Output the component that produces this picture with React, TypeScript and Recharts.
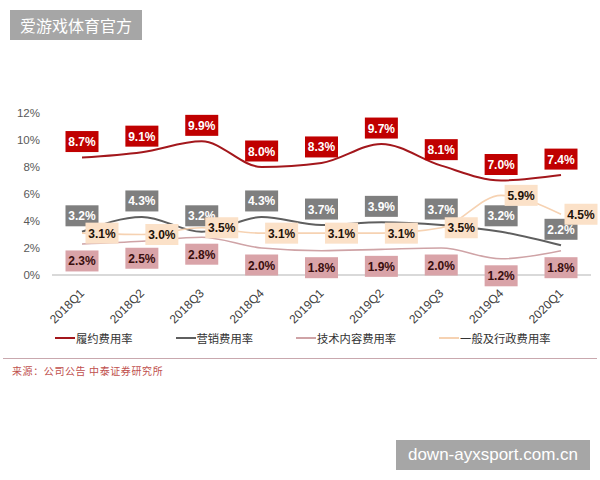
import React from 'react';
import { LineChart, Line, XAxis, YAxis, LabelList } from 'recharts';

// quarterly expense ratios, in percent
const quarters = ['2018Q1', '2018Q2', '2018Q3', '2018Q4', '2019Q1', '2019Q2', '2019Q3', '2019Q4', '2020Q1'];
const fulfillment = [8.7, 9.1, 9.9, 8.0, 8.3, 9.7, 8.1, 7.0, 7.4];
const marketing = [3.2, 4.3, 3.2, 4.3, 3.7, 3.9, 3.7, 3.2, 2.2];
const techContent = [2.3, 2.5, 2.8, 2.0, 1.8, 1.9, 2.0, 1.2, 1.8];
const generalAdmin = [3.1, 3.0, 3.5, 3.1, 3.1, 3.1, 3.5, 5.9, 4.5];
const yTicks = [0, 2, 4, 6, 8, 10, 12];

const data = quarters.map((q, i) => ({
  q,
  fulfillment: fulfillment[i],
  marketing: marketing[i],
  techContent: techContent[i],
  generalAdmin: generalAdmin[i],
}));

const series = [
  { key: 'fulfillment', name: '履约费用率', line: '#A3171C', width: 2, box: '#C00000', text: '#ffffff', dx: 0, dy: -16 },
  { key: 'marketing', name: '营销费用率', line: '#5F5F5F', width: 2, box: '#7F7F7F', text: '#ffffff', dx: 0, dy: -16 },
  { key: 'techContent', name: '技术内容费用率', line: '#CFA3A6', width: 1.6, box: '#D9A3A8', text: '#3A0E0E', dx: 0, dy: 17 },
  { key: 'generalAdmin', name: '一般及行政费用率', line: '#F6D2B2', width: 1.6, box: '#FBE1C8', text: '#1E1209', dx: 20, dy: 0 },
];

const numFont = '"Liberation Sans", Arial, sans-serif';
const cjkFont = '"Noto Sans CJK SC", sans-serif';

const makeTag = (box: string, color: string, dx: number, dy: number) => (props: any) => {
  const { x, y, value } = props;
  if (x == null || y == null) return null;
  const cx = x + dx;
  const cy = y + dy;
  const w = 33;
  const h = 21;
  return (
    <g>
      <rect x={cx - w / 2} y={cy - h / 2} width={w} height={h} fill={box} />
      <text
        x={cx}
        y={cy}
        dy={4.5}
        textAnchor="middle"
        fill={color}
        fontSize={12}
        fontWeight={700}
        fontFamily={numFont}
      >
        {`${Number(value).toFixed(1)}%`}
      </text>
    </g>
  );
};

// rotated quarter labels, anchored at their end just under the axis
const QuarterTick = (props: any) => {
  const { x, payload } = props;
  const ax = x + 3;
  const ay = 294;
  return (
    <text
      x={ax}
      y={ay}
      transform={`rotate(-45, ${ax}, ${ay})`}
      textAnchor="end"
      fill="#404040"
      fontSize={12}
      fontFamily={numFont}
    >
      {payload.value}
    </text>
  );
};

export default function App() {
  return (
    <div
      style={{
        position: 'absolute',
        left: 0,
        top: 0,
        width: 600,
        height: 480,
        background: '#ffffff',
        overflow: 'hidden',
      }}
    >
      <div
        style={{
          position: 'absolute',
          left: 10,
          top: 10,
          width: 132,
          height: 30,
          background: '#A6A6A6',
          color: '#ffffff',
          fontFamily: cjkFont,
          fontSize: 16,
          lineHeight: '30px',
          textAlign: 'center',
        }}
      >
        爱游戏体育官方
      </div>

      <div style={{ position: 'absolute', left: 0, top: 0 }}>
        <LineChart width={600} height={340} data={data} margin={{ top: 113, right: 9, bottom: 0, left: 7 }}>
          <XAxis
            dataKey="q"
            interval={0}
            height={65}
            padding={{ left: 30, right: 30 }}
            tickLine={false}
            tickSize={0}
            axisLine={{ stroke: '#D9D9D9', strokeWidth: 2 }}
            tick={<QuarterTick />}
          />
          <YAxis
            width={45}
            domain={[0, 12]}
            ticks={yTicks}
            axisLine={false}
            tickLine={false}
            tickSize={0}
            tickMargin={12}
            tickFormatter={(v: number) => `${v}%`}
            tick={{ fill: '#595959', fontSize: 11.5, fontFamily: numFont }}
          />
          {series.map((s) => (
            <Line
              key={s.key}
              dataKey={s.key}
              type="monotone"
              stroke={s.line}
              strokeWidth={s.width}
              dot={false}
              isAnimationActive={false}
            >
              <LabelList dataKey={s.key} content={makeTag(s.box, s.text, s.dx, s.dy)} />
            </Line>
          ))}
        </LineChart>
      </div>

      {/* legend */}
      <div
        style={{
          position: 'absolute',
          left: 55,
          top: 330,
          display: 'flex',
          gap: 43,
          fontFamily: cjkFont,
          fontSize: 11.3,
          color: '#333333',
          lineHeight: '16px',
        }}
      >
        {series.map((s) => (
          <div key={s.key} style={{ display: 'flex', alignItems: 'center' }}>
            <span style={{ display: 'inline-block', width: 20, height: 2, background: s.line, marginRight: 1 }} />
            <span>{s.name}</span>
          </div>
        ))}
      </div>

      <div
        style={{
          position: 'absolute',
          left: 3,
          top: 358,
          width: 594,
          height: 1,
          background: '#C9A8AE',
        }}
      />
      <div
        style={{
          position: 'absolute',
          left: 12,
          top: 364,
          fontFamily: cjkFont,
          fontSize: 10,
          letterSpacing: 0.6,
          color: '#C0504D',
          lineHeight: '14px',
        }}
      >
        来源：公司公告 中泰证券研究所
      </div>

      <div
        style={{
          position: 'absolute',
          left: 396,
          top: 440,
          width: 194,
          height: 30,
          background: '#A6A6A6',
          color: '#ffffff',
          fontFamily: numFont,
          fontSize: 17,
          lineHeight: '30px',
          textAlign: 'center',
        }}
      >
        down-ayxsport.com.cn
      </div>
    </div>
  );
}
